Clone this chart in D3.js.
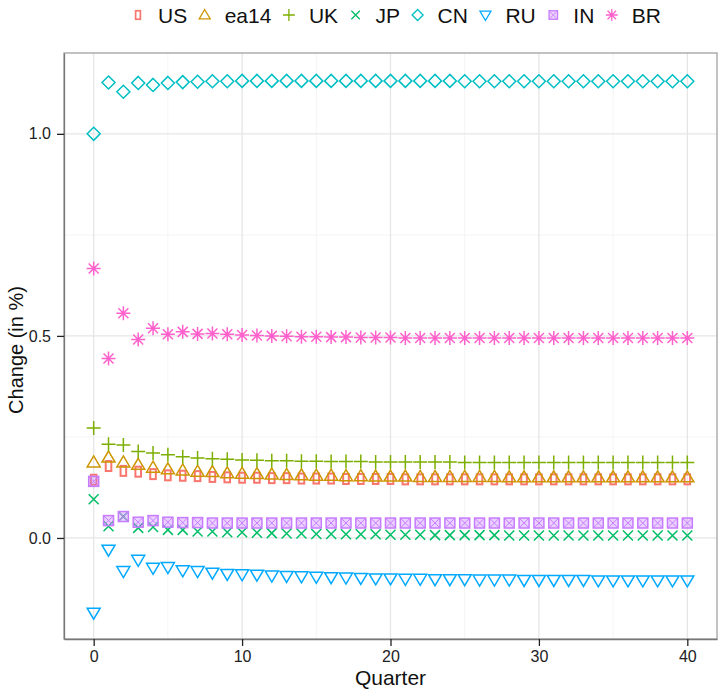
<!DOCTYPE html>
<html>
<head>
<meta charset="utf-8">
<script src="https://cdn.jsdelivr.net/npm/d3@7"></script>
<style>
  body { margin: 0; background: #fff; }
  text { font-family: "Liberation Sans", Arial, sans-serif; }
</style>
</head>
<body>
<svg id="chart" width="718" height="689"></svg>
<script>
// Quarters 0..40
const quarters = d3.range(0, 41);

const seriesNames = ["US", "ea14", "UK", "JP", "CN", "RU", "IN", "BR"];
const seriesColors = ["#F8766D", "#CD9600", "#7CAE00", "#00BE67", "#00BFC4", "#00A9FF", "#C77CFF", "#FF61CC"];

const usValues = [0.144, 0.178, 0.166, 0.164, 0.158, 0.155, 0.154, 0.153, 0.151, 0.150,
  0.149, 0.149, 0.148, 0.148, 0.147, 0.147, 0.147, 0.146, 0.146, 0.146,
  0.146, 0.145, 0.145, 0.145, 0.145, 0.145, 0.145, 0.145, 0.145, 0.145,
  0.145, 0.145, 0.145, 0.145, 0.145, 0.145, 0.145, 0.145, 0.145, 0.145, 0.145];
const ea14Values = [0.187, 0.199, 0.187, 0.181, 0.174, 0.170, 0.167, 0.164, 0.163, 0.160,
  0.159, 0.158, 0.157, 0.156, 0.155, 0.154, 0.154, 0.153, 0.153, 0.152,
  0.152, 0.152, 0.151, 0.151, 0.151, 0.151, 0.151, 0.151, 0.150, 0.150,
  0.150, 0.150, 0.150, 0.150, 0.150, 0.150, 0.150, 0.150, 0.150, 0.150, 0.150];
const ukValues = [0.272, 0.232, 0.230, 0.214, 0.210, 0.206, 0.201, 0.198, 0.196, 0.195,
  0.193, 0.192, 0.191, 0.191, 0.190, 0.190, 0.189, 0.189, 0.189, 0.188,
  0.188, 0.188, 0.188, 0.188, 0.188, 0.187, 0.187, 0.187, 0.187, 0.187,
  0.187, 0.187, 0.187, 0.187, 0.187, 0.187, 0.187, 0.187, 0.187, 0.187, 0.187];
const jpValues = [0.096, 0.029, 0.053, 0.025, 0.027, 0.020, 0.020, 0.016, 0.016, 0.014,
  0.014, 0.013, 0.012, 0.011, 0.011, 0.010, 0.010, 0.009, 0.009, 0.009,
  0.008, 0.008, 0.008, 0.007, 0.007, 0.007, 0.007, 0.007, 0.006, 0.006,
  0.006, 0.006, 0.006, 0.006, 0.006, 0.006, 0.006, 0.006, 0.006, 0.006, 0.006];
const cnValues = [1.000, 1.127, 1.104, 1.126, 1.121, 1.126, 1.128, 1.129, 1.130, 1.130,
  1.131, 1.131, 1.131, 1.131, 1.131, 1.131, 1.131, 1.131, 1.131, 1.131,
  1.131, 1.131, 1.131, 1.131, 1.131, 1.130, 1.130, 1.130, 1.130, 1.130,
  1.130, 1.130, 1.130, 1.130, 1.130, 1.130, 1.130, 1.130, 1.130, 1.130, 1.130];
const ruValues = [-0.185, -0.029, -0.082, -0.054, -0.074, -0.072, -0.080, -0.082, -0.086, -0.089,
  -0.090, -0.091, -0.093, -0.094, -0.095, -0.096, -0.097, -0.098, -0.099, -0.100,
  -0.100, -0.101, -0.101, -0.102, -0.102, -0.102, -0.103, -0.103, -0.103, -0.104,
  -0.104, -0.104, -0.104, -0.104, -0.105, -0.105, -0.105, -0.105, -0.105, -0.105, -0.105];
const inValues = [0.140, 0.043, 0.053, 0.039, 0.043, 0.039, 0.038, 0.038, 0.037, 0.037,
  0.037, 0.037, 0.037, 0.037, 0.037, 0.037, 0.037, 0.037, 0.037, 0.037,
  0.037, 0.037, 0.037, 0.037, 0.037, 0.037, 0.037, 0.037, 0.037, 0.037,
  0.037, 0.037, 0.037, 0.037, 0.037, 0.037, 0.037, 0.037, 0.037, 0.037, 0.037];
const brValues = [0.667, 0.444, 0.556, 0.491, 0.519, 0.504, 0.510, 0.505, 0.506, 0.504,
  0.502, 0.501, 0.500, 0.499, 0.498, 0.498, 0.497, 0.497, 0.496, 0.496,
  0.496, 0.495, 0.495, 0.495, 0.495, 0.495, 0.495, 0.495, 0.495, 0.495,
  0.495, 0.495, 0.495, 0.495, 0.495, 0.495, 0.495, 0.495, 0.495, 0.495, 0.495];

const allValues = [usValues, ea14Values, ukValues, jpValues, cnValues, ruValues, inValues, brValues];

const xTicks = [0, 10, 20, 30, 40];
const xMinor = [5, 15, 25, 35];
const yTicks = [0, 0.5, 1.0];
const yMinor = [0.25, 0.75];

const svg = d3.select("#chart");
const margin = { top: 53, right: 1, bottom: 50, left: 64 };
const width = 718, height = 689;

const x = d3.scaleLinear().domain([-2, 42]).range([margin.left, width - margin.right]);
const y = d3.scaleLinear().domain([-0.25, 1.2]).range([height - margin.bottom, margin.top]);

// grid
const grid = svg.append("g");
grid.selectAll(".xminor").data(xMinor).enter().append("line")
  .attr("x1", d => x(d)).attr("x2", d => x(d))
  .attr("y1", y.range()[1]).attr("y2", y.range()[0])
  .attr("stroke", "#f4f4f4").attr("stroke-width", 1);
grid.selectAll(".yminor").data(yMinor).enter().append("line")
  .attr("x1", x.range()[0]).attr("x2", x.range()[1])
  .attr("y1", d => y(d)).attr("y2", d => y(d))
  .attr("stroke", "#f4f4f4").attr("stroke-width", 1);
grid.selectAll(".xmajor").data(xTicks).enter().append("line")
  .attr("x1", d => x(d)).attr("x2", d => x(d))
  .attr("y1", y.range()[1]).attr("y2", y.range()[0])
  .attr("stroke", "#e6e6e6").attr("stroke-width", 1.3);
grid.selectAll(".ymajor").data(yTicks).enter().append("line")
  .attr("x1", x.range()[0]).attr("x2", x.range()[1])
  .attr("y1", d => y(d)).attr("y2", d => y(d))
  .attr("stroke", "#e6e6e6").attr("stroke-width", 1.3);

// panel border
svg.append("rect")
  .attr("x", x.range()[0]).attr("y", y.range()[1])
  .attr("width", x.range()[1] - x.range()[0])
  .attr("height", y.range()[0] - y.range()[1])
  .attr("fill", "none").attr("stroke", "#999").attr("stroke-width", 1.2);

// axes
const xAxis = svg.append("g")
  .attr("transform", `translate(0,${y.range()[0]})`)
  .call(d3.axisBottom(x).tickValues(xTicks).tickSize(7).tickPadding(5).tickSizeOuter(0));
const yAxis = svg.append("g")
  .attr("transform", `translate(${x.range()[0]},0)`)
  .call(d3.axisLeft(y).tickValues(yTicks).tickFormat(d3.format(".1f")).tickSize(7).tickPadding(6).tickSizeOuter(0));
[xAxis, yAxis].forEach(a => {
  a.select(".domain").attr("stroke", "#777").attr("stroke-width", 1.3);
  a.selectAll(".tick line").attr("stroke", "#222").attr("stroke-width", 1.3);
  a.selectAll(".tick text").attr("font-size", 16).attr("fill", "#222")
    .style("font-family", '"Liberation Sans", Arial, sans-serif');
});

svg.append("text")
  .attr("x", (x.range()[0] + x.range()[1]) / 2).attr("y", 685)
  .attr("text-anchor", "middle").attr("font-size", 21).attr("fill", "#111")
  .text("Quarter");
svg.append("text")
  .attr("transform", `translate(23,${(y.range()[0] + y.range()[1]) / 2 + 4}) rotate(-90)`)
  .attr("text-anchor", "middle").attr("font-size", 20).attr("fill", "#111")
  .text("Change (in %)");

// symbol drawing
function drawSymbol(g, i, color) {
  const sw = 1.5;
  switch (i) {
    case 0: // narrow rectangle
      g.append("rect").attr("x", -2.8).attr("y", -5).attr("width", 5.6).attr("height", 10)
        .attr("fill", "none").attr("stroke", color).attr("stroke-width", 2);
      break;
    case 1: // triangle up
      g.append("path").attr("d", "M0,-6.5L6.5,4.5L-6.5,4.5Z")
        .attr("fill", "none").attr("stroke", color).attr("stroke-width", sw);
      break;
    case 2: // plus
      g.append("path").attr("d", "M-7,0H7M0,-7V7")
        .attr("stroke", color).attr("stroke-width", sw);
      break;
    case 3: // cross
      g.append("path").attr("d", "M-5,-5L5,5M-5,5L5,-5")
        .attr("stroke", color).attr("stroke-width", sw);
      break;
    case 4: // diamond
      g.append("path").attr("d", "M0,-6.5L6.5,0L0,6.5L-6.5,0Z")
        .attr("fill", "none").attr("stroke", color).attr("stroke-width", sw);
      break;
    case 5: // triangle down
      g.append("path").attr("d", "M0,6.5L6.5,-4.5L-6.5,-4.5Z")
        .attr("fill", "none").attr("stroke", color).attr("stroke-width", sw);
      break;
    case 6: // square with cross
      g.append("rect").attr("x", -5).attr("y", -5).attr("width", 10).attr("height", 10)
        .attr("fill", color).attr("fill-opacity", 0.35)
        .attr("stroke", color).attr("stroke-width", sw);
      g.append("path").attr("d", "M-5,-5L5,5M-5,5L5,-5")
        .attr("stroke", color).attr("stroke-width", 1);
      break;
    case 7: // asterisk
      g.append("path").attr("d", "M-7,0H7M0,-7V7M-5,-5L5,5M-5,5L5,-5")
        .attr("stroke", color).attr("stroke-width", sw);
      break;
  }
}

// points
const pts = svg.append("g");
allValues.forEach((vals, i) => {
  pts.selectAll(null).data(quarters).enter().append("g")
    .attr("transform", q => `translate(${x(q)},${y(vals[q])})`)
    .each(function() { drawSymbol(d3.select(this), i, seriesColors[i]); });
});

// legend
const legend = svg.append("g");
let lx = 138;
seriesNames.forEach((name, i) => {
  const g = legend.append("g").attr("transform", `translate(${lx},15)`);
  drawSymbol(g.append("g").attr("transform", "scale(0.85)"), i, seriesColors[i]);
  const t = g.append("text").attr("x", 20).attr("y", 7.5).attr("font-size", 21)
    .attr("fill", "#111").text(name);
  lx += 20 + t.node().getComputedTextLength() + 17.5;
});
</script>
</body>
</html>
